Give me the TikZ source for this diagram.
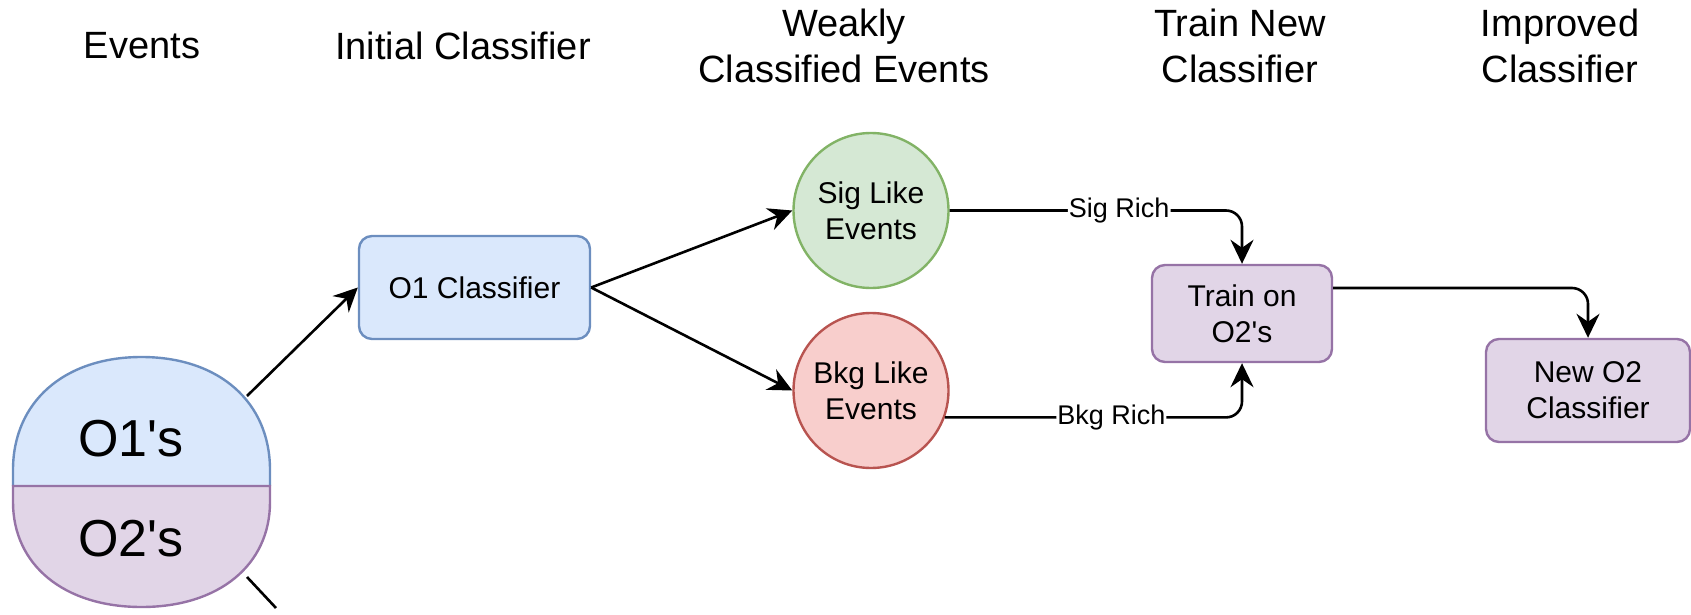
\documentclass[tikz,border=0pt]{standalone}
\usepackage{fontspec}
\setmainfont{Liberation Sans}
\usetikzlibrary{arrows.meta,calc}

\definecolor{blueF}{HTML}{DAE8FC}\definecolor{blueD}{HTML}{6C8EBF}
\definecolor{greenF}{HTML}{D5E8D4}\definecolor{greenD}{HTML}{82B366}
\definecolor{redF}{HTML}{F8CECC}\definecolor{redD}{HTML}{B85450}
\definecolor{purF}{HTML}{E1D5E7}\definecolor{purD}{HTML}{9673A6}

\newcommand{\apo}{\textquotesingle}

\tikzset{
  title/.style={font=\fontsize{38}{46}\selectfont, align=center, inner sep=0pt},
  box/.style={rectangle, rounded corners=13pt, line width=2.4pt, inner sep=0pt,
    align=center, font=\fontsize{30}{36}\selectfont},
  bluebox/.style={box, fill=blueF, draw=blueD},
  purplebox/.style={box, fill=purF, draw=purD},
  ball/.style={circle, minimum size=155pt, inner sep=0pt, line width=2.4pt,
    align=center, font=\fontsize{30}{36}\selectfont},
  big/.style={font=\fontsize{52}{60}\selectfont, inner sep=0pt, anchor=base},
  conn/.style={line width=2.6pt, -{Stealth[length=24pt,width=23pt,inset=8pt]}},
  plain/.style={line width=2.6pt},
  lbl/.style={fill=white, inner sep=1pt, font=\fontsize{27}{32}\selectfont},
}

\begin{document}
\begin{tikzpicture}[x=1pt,y=-1pt]
\useasboundingbox (0,0) rectangle (1691,615);

% column headings
\node[title] (hEvents) at (142,46) {Events};
\node[title] (hInit) at (463,46) {Initial Classifier};
\node[title] (hWeak) at (844,46) {Weakly\\Classified Events};
\node[title] (hTrain) at (1240,46) {Train New\\Classifier};
\node[title] (hImpr) at (1560,46) {Improved\\Classifier};

% event sample, split into the two halves (rounded outline)
\def\tophalf{(13,486) -- (13,470)
  .. controls (13,402) and (64,357) .. (141.5,357)
  .. controls (219,357) and (270,402) .. (270,470) -- (270,486)}
\def\bothalf{(13,486) -- (13,502)
  .. controls (13,565) and (64,607) .. (141.5,607)
  .. controls (219,607) and (270,565) .. (270,502) -- (270,486)}
\fill[blueF] \tophalf -- cycle;
\fill[purF] \bothalf -- cycle;
\draw[blueD, line width=2.4pt] \tophalf;
\draw[purD, line width=2.4pt] \bothalf -- cycle;
\node[big] (o1s) at (131,456) {O1\apo s};
\node[big] (o2s) at (131,556) {O2\apo s};
\coordinate (evOut) at (247,396);
\coordinate (evLow) at (247,577);
\coordinate (evOff) at (276,608);

% classifiers and event classes
\node[bluebox, minimum width=231pt, minimum height=103pt] (o1c) at (474.5,287.5) {O1 Classifier};
\node[ball, fill=greenF, draw=greenD] (sig) at (871,210.5) {Sig Like\\Events};
\node[ball, fill=redF, draw=redD] (bkg) at (871,390.5) {Bkg Like\\Events};
\node[purplebox, minimum width=180pt, minimum height=97pt] (train) at (1242,313.5) {Train on\\O2\apo s};
\node[purplebox, minimum width=204pt, minimum height=103pt] (newc) at (1588,390.5) {New O2\\Classifier};

% connectors
\draw[conn] (evOut) -- (o1c.west);
\draw[plain] (evLow) -- (evOff);
\draw[conn] (o1c.east) -- (sig.west);
\draw[conn] (o1c.east) -- (bkg.west);
\draw[conn, rounded corners=16pt] (sig.east) -| node[lbl, pos=0.29] {Sig Rich} (train.north);
\draw[conn, rounded corners=16pt] (bkg.-20) -| node[lbl, pos=0.28] {Bkg Rich} (train.south);
\draw[conn, rounded corners=16pt] ([yshift=25.5pt]train.east) -| (newc.north);
\end{tikzpicture}
\end{document}
